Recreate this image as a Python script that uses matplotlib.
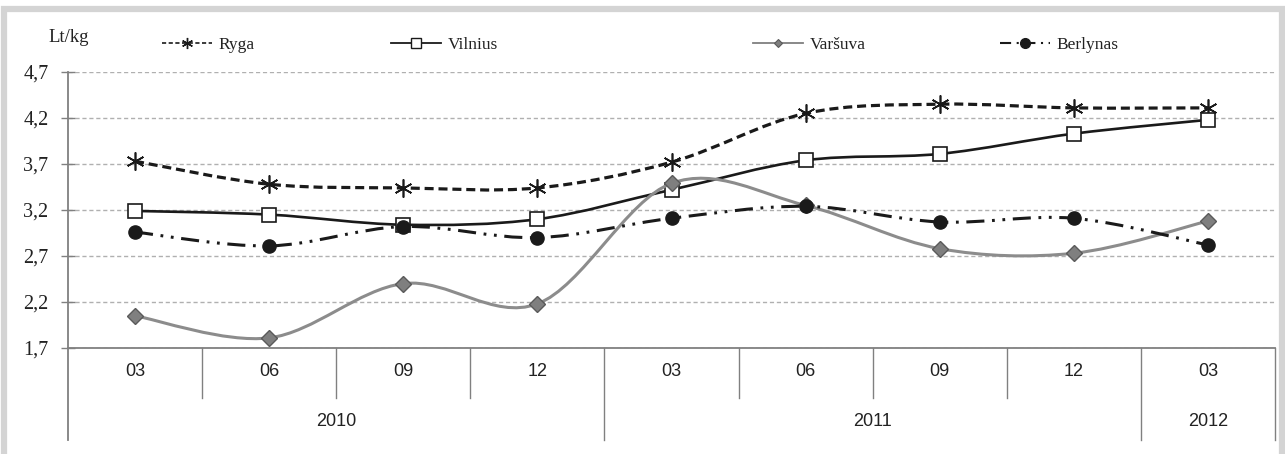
import numpy as np
import matplotlib
matplotlib.use('Agg')
import matplotlib.pyplot as plt
from matplotlib import font_manager
from matplotlib.path import Path
from matplotlib.patches import PathPatch, Rectangle
from matplotlib.lines import Line2D
import matplotlib.transforms as mtrans

plt.rcParams['font.family'] = ['Liberation Serif', 'DejaVu Serif']
plt.rcParams['lines.scale_dashes'] = False

# data (Lt/kg)
months = ['03', '06', '09', '12', '03', '06', '09', '12', '03']
years = ['2010', '2011', '2012']
year_spans = [(0, 3), (4, 7), (8, 8)]  # first and last month index of each year
ryga = [3.73, 3.48, 3.44, 3.44, 3.72, 4.25, 4.35, 4.31, 4.31]
vilnius = [3.19, 3.15, 3.04, 3.10, 3.42, 3.74, 3.81, 4.03, 4.18]
varsuva = [2.05, 1.81, 2.40, 2.18, 3.49, 3.25, 2.78, 2.73, 3.08]
berlynas = [2.96, 2.81, 3.02, 2.90, 3.11, 3.24, 3.07, 3.11, 2.82]

# narrow sans for category labels if there is one
names = {f.name for f in font_manager.fontManager.ttflist}
if 'Liberation Sans Narrow' in names:
    xfont, xsize = 'Liberation Sans Narrow', 15.5
else:
    xfont, xsize = 'Liberation Sans', 13


def smooth_path(xs, ys):
    # Excel-like smoothed line: Catmull-Rom segments as cubic Bezier curves
    pts = np.column_stack([xs, ys]).astype(float)
    n = len(pts)
    verts = [pts[0]]
    codes = [Path.MOVETO]
    for i in range(n - 1):
        p0 = pts[i - 1] if i > 0 else pts[i]
        p1 = pts[i]
        p2 = pts[i + 1]
        p3 = pts[i + 2] if i + 2 < n else pts[i + 1]
        verts += [p1 + (p2 - p0) / 6, p2 - (p3 - p1) / 6, p2]
        codes += [Path.CURVE4] * 3
    return Path(verts, codes)


W, H = 1285, 454
fig = plt.figure(figsize=(W / 100, H / 100), dpi=100)
ax = fig.add_axes([68 / W, 1 - 348 / H, 1207 / W, 276 / H])

x = np.arange(len(months))
series = [
    # name, values, color, lw, linestyle, marker, ms, face, edge, mew
    ('Ryga', ryga, '#1a1a1a', 2.3, (0, (6.5, 3.5)), (6, 2, 0), 13, '#1a1a1a', '#1a1a1a', 1.2),
    ('Vilnius', vilnius, '#1a1a1a', 1.9, '-', 's', 9.5, 'white', '#1a1a1a', 1.2),
    ('Varšuva', varsuva, '#8c8c8c', 2.2, '-', 'D', 8, '#7f7f7f', '#5a5a5a', 1.0),
    ('Berlynas', berlynas, '#1a1a1a', 2.2, (0, (13, 5.5, 2, 5.5, 2, 5.5)), 'o', 9.5, '#1a1a1a', '#1a1a1a', 1.0),
]

for k, (name, vals, col, lw, ls, mk, ms, fc, ec, mew) in enumerate(series):
    patch = PathPatch(smooth_path(x, vals), fill=False, edgecolor=col, lw=lw,
                      linestyle=ls, capstyle='butt', zorder=3 + 2 * k)
    ax.add_patch(patch)
    ax.plot(x, vals, linestyle='none', marker=mk, ms=ms, mfc=fc, mec=ec,
            mew=mew, zorder=4 + 2 * k, clip_on=False)

ax.set_xlim(-0.5, len(months) - 0.5)
ax.set_ylim(1.7, 4.7)
yt = np.arange(1.7, 4.71, 0.5)
ax.set_yticks(yt)
ax.set_yticklabels([f'{v:.1f}'.replace('.', ',') for v in yt], fontsize=14.5)
ax.tick_params(axis='y', direction='inout', length=10, width=1, color='#808080',
               pad=9, labelcolor='#222222')
ax.set_xticks([])
ax.yaxis.grid(True, color='#b0b0b0', lw=1, linestyle=(0, (3, 2)))
ax.set_axisbelow(True)
for s in ['top', 'right']:
    ax.spines[s].set_visible(False)
ax.spines['left'].set_visible(False)
ax.spines['bottom'].set_color('#808080')
ax.spines['bottom'].set_linewidth(1.3)

# multi-level category axis below the plot
bt = mtrans.blended_transform_factory(ax.transData, ax.transAxes)
month_depth = -(398 - 348) / 276
year_depth = -(440 - 348) / 276
ax.plot([0, 0], [1, year_depth], transform=ax.transAxes, color='#808080', lw=1.3, clip_on=False)
for i in range(1, len(months)):
    depth = year_depth if any(i == a for a, b in year_spans) else month_depth
    ax.plot([i - 0.5, i - 0.5], [0, depth], transform=bt, color='#808080', lw=1, clip_on=False)
ax.plot([len(months) - 0.5] * 2, [0, year_depth], transform=bt, color='#808080', lw=1, clip_on=False)
for i, m in enumerate(months):
    ax.text(i, -(371 - 348) / 276, m, transform=bt, ha='center', va='center',
            fontsize=xsize, family=xfont, color='#222222')
for yr, (a, b) in zip(years, year_spans):
    ax.text((a + b) / 2, -(421 - 348) / 276, yr, transform=bt, ha='center', va='center',
            fontsize=xsize, family=xfont, color='#222222')

# unit label
fig.text(48 / W, 1 - 38 / H, 'Lt/kg', fontsize=13.5, ha='left', va='center', color='#222222')

# legend entries placed one by one
leg_x = [162, 391, 753, 1000]
leg_handles = [
    Line2D([], [], color='#1a1a1a', lw=1.2, linestyle=(0, (3, 1.8)), marker=(6, 2, 0), ms=8, mew=1),
    Line2D([], [], color='#1a1a1a', lw=1.3, marker='s', ms=6.5, mfc='white', mec='#1a1a1a', mew=1),
    Line2D([], [], color='#7f7f7f', lw=1.3, marker='D', ms=4.5, mfc='#7f7f7f', mec='#5a5a5a', mew=0.8),
    Line2D([], [], color='#1a1a1a', lw=1.5, linestyle=(0, (8, 4, 1.5, 4)), marker='o', ms=7, mfc='#1a1a1a'),
]
for hx, h, s in zip(leg_x, leg_handles, series):
    leg = fig.legend([h], [s[0]], loc='center left', bbox_to_anchor=(hx / W, 1 - 45 / H),
                     frameon=False, fontsize=12.5, handlelength=2.9, handletextpad=0.35,
                     borderpad=0, borderaxespad=0)
    for t in leg.get_texts():
        t.set_color('#222222')

# grey frame round the chart
fig.patches.append(Rectangle((3.5 / W, -0.1), (1282 - 3.5) / W, 1.1 - 9.5 / H,
                             transform=fig.transFigure, fill=False,
                             edgecolor='#d4d4d4', lw=4.5, zorder=0))

fig.savefig('out.png', dpi=100)
